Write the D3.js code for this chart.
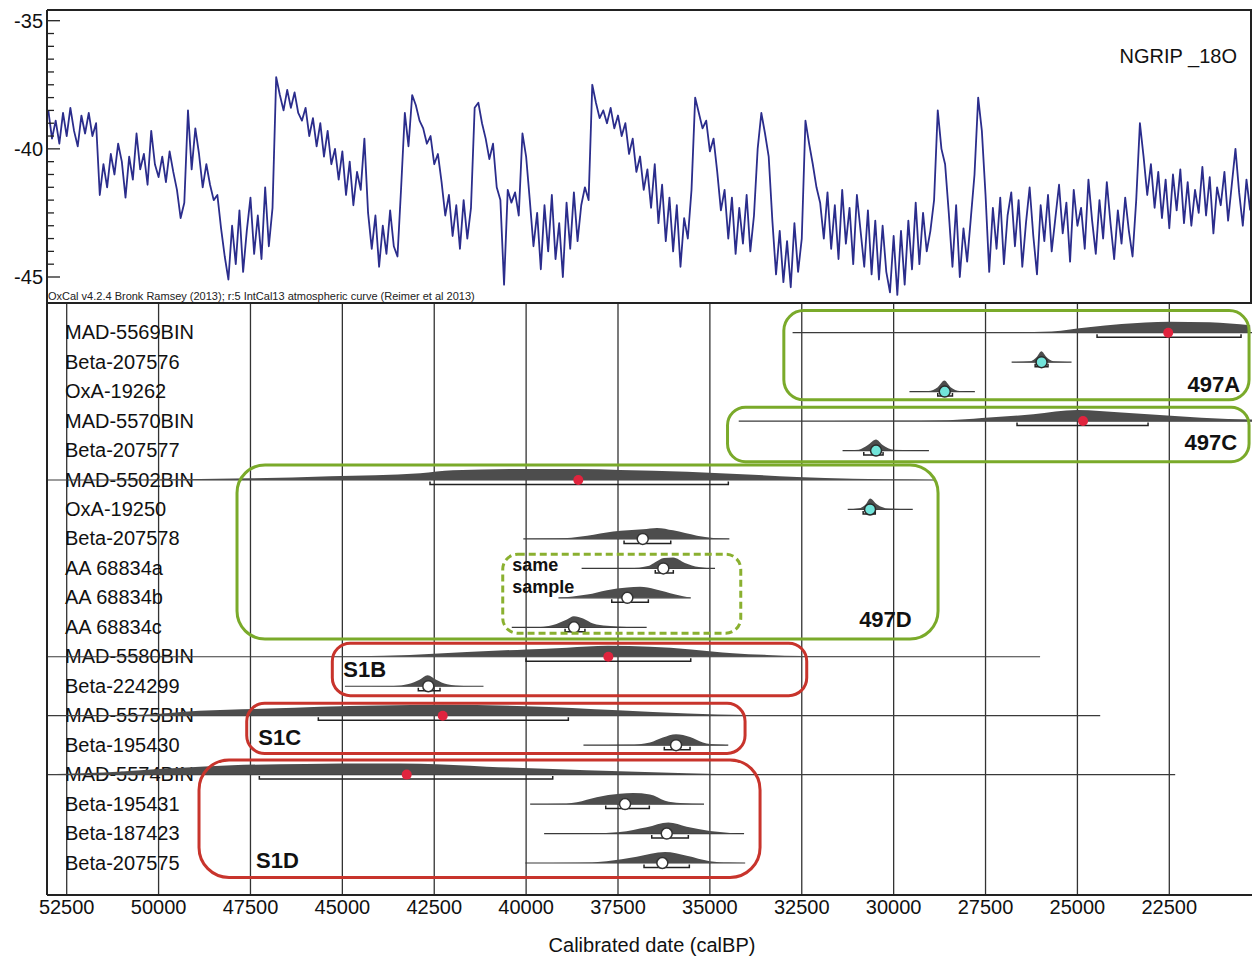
<!DOCTYPE html>
<html>
  <head>
    <meta charset="utf-8"/>
    <style>
body {
  margin: 0;
  background: #fff;
}
svg {
  display: block;
  font-family: "Liberation Sans", Arial, sans-serif;
}
    </style>
  </head>
  <body>
    <svg id="chart" width="1252" height="958"></svg>
    <script src="https://cdnjs.cloudflare.com/ajax/libs/d3/7.8.5/d3.min.js"></script>
    <script>
// NGRIP d18O, one value every 100 yr from 53000 calBP down to 20300 calBP
const ngripStart = 53000,
      ngripStep = 100;
const ngripValues = [
  -38.5, -39.6, -38.9, -39.8, -38.6, -39.5, -38.4, -39.3, -39.9, -38.7,
  -39.4, -38.6, -39.5, -39.0, -41.8, -40.6, -41.5, -40.2, -41.0, -39.8,
  -40.5, -41.9, -40.3, -41.2, -39.4, -40.8, -40.2, -41.4, -39.3, -40.6,
  -41.1, -40.3, -41.3, -40.1, -40.9, -41.6, -42.7, -42.1, -38.5, -40.8,
  -39.2, -40.2, -41.5, -40.6, -41.4, -42.0, -41.8, -43.1, -44.2, -45.1,
  -43.0, -44.5, -42.4, -44.8, -43.2, -41.9, -44.1, -42.6, -44.3, -41.5,
  -43.8, -42.3, -37.2, -37.9, -38.5, -37.7, -38.4, -37.8, -38.6, -38.9,
  -38.4, -39.5, -38.8, -39.9, -39.0, -40.3, -39.3, -40.6, -40.0, -41.2,
  -40.1, -41.8, -40.5, -42.2, -40.9, -41.6, -39.6, -42.5, -43.9, -42.6,
  -44.6, -43.0, -44.1, -42.4, -43.8, -44.2, -41.5, -38.6, -39.9, -37.9,
  -38.3, -38.9, -39.2, -39.8, -39.5, -40.6, -40.2, -41.3, -42.6, -41.8,
  -43.4, -42.2, -43.9, -42.0, -43.5, -42.3, -38.4, -38.2, -39.0, -39.6,
  -40.4, -39.8, -41.5, -42.0, -45.3, -41.6, -42.1, -41.7, -42.6, -39.4,
  -40.3, -42.0, -43.8, -42.5, -44.7, -42.2, -44.0, -41.8, -44.3, -42.9,
  -45.0, -42.1, -43.9, -41.7, -43.6, -42.2, -41.5, -42.0, -37.5, -38.2,
  -38.8, -38.5, -39.0, -38.4, -39.2, -38.7, -39.5, -39.0, -40.2, -39.6,
  -40.9, -40.3, -41.6, -40.8, -42.3, -40.6, -42.9, -41.4, -43.6, -41.9,
  -44.0, -42.2, -44.6, -42.7, -43.5, -41.6, -38.0, -38.6, -39.2, -38.9,
  -40.1, -39.6, -40.9, -42.4, -41.6, -43.5, -41.9, -44.1, -42.3, -43.7,
  -41.8, -44.0, -42.6, -40.0, -38.6, -39.4, -40.3, -42.8, -44.9, -43.2,
  -45.2, -43.6, -45.4, -42.9, -44.8, -43.5, -38.9, -39.8, -40.6, -41.5,
  -42.1, -43.5, -41.7, -43.9, -42.2, -44.3, -41.6, -43.7, -42.3, -44.5,
  -41.8, -43.2, -44.6, -42.4, -44.9, -42.8, -45.1, -43.0, -44.8, -45.6,
  -43.4, -45.7, -43.2, -45.3, -42.8, -44.7, -42.1, -44.5, -42.5, -44.0,
  -43.2, -42.0, -38.5, -40.0, -40.6, -42.5, -44.6, -42.2, -45.0, -43.1,
  -44.4, -42.7, -41.0, -38.0, -39.3, -41.8, -44.8, -42.3, -43.9, -41.9,
  -44.5, -42.6, -41.7, -43.8, -42.0, -44.6, -42.9, -41.5, -43.4, -44.9,
  -42.2, -43.6, -41.8, -44.0, -42.7, -41.4, -43.3, -42.1, -44.4, -41.6,
  -43.0, -42.3, -43.9, -41.2, -42.8, -44.1, -42.0, -43.5, -41.3, -42.9,
  -44.3, -42.4, -43.7, -41.9, -43.2, -44.2, -42.0, -39.0, -40.3, -41.8,
  -40.6, -42.3, -40.9, -42.7, -41.2, -43.1, -41.0, -42.4, -40.8, -42.9,
  -41.3, -43.0, -41.6, -42.5, -40.7, -42.6, -41.1, -43.3, -41.5, -42.2,
  -40.9, -42.8, -41.4, -40.0, -41.7, -43.0, -41.2, -42.4
];

// samples, top to bottom
const sampleNames = ["MAD-5569BIN", "Beta-207576", "OxA-19262", "MAD-5570BIN", "Beta-207577",
  "MAD-5502BIN", "OxA-19250", "Beta-207578", "AA 68834a", "AA 68834b", "AA 68834c",
  "MAD-5580BIN", "Beta-224299", "MAD-5575BIN", "Beta-195430", "MAD-5574BIN",
  "Beta-195431", "Beta-187423", "Beta-207575"];
const spanFrom = [32750, 26790, 29570, 34215, 31390, 53036, 31250, 40076, 38490, 39120, 40390,
  53036, 44930, 53036, 38440, 53036, 39890, 39510, 40020];
const spanTo = [20250, 25160, 27790, 20250, 29040, 28870, 29480, 34470, 34860, 35520, 36720,
  26016, 41160, 24380, 34500, 22340, 35160, 34070, 34040];
const rangeFrom = [24466, 26150, 28800, 26643, 30813, 42615, 30830, 37335, 36486, 37670, 38940,
  40002, 42933, 45654, 36240, 47259, 37834, 36582, 36792];
const rangeTo = [20548, 25800, 28400, 23078, 30288, 34498, 30500, 36065, 35995, 36674, 38400,
  35521, 42343, 38851, 35540, 39276, 36648, 35586, 35559];
const markerDate = [22530, 25976, 28610, 24847, 30479, 38580, 30642, 36827, 36267, 37246, 38696,
  37763, 42661, 42269, 35920, 43249, 37309, 36174, 36294];
const markerKind = ["red", "cyan", "cyan", "red", "cyan", "red", "cyan", "white", "white", "white", "white",
  "red", "white", "red", "white", "red", "white", "white", "white"];
// probability density, [calBP, relative height]
const densities = [
  [[32750, 0], [29000, 0.01], [27000, 0.03], [25700, 0.12], [24700, 0.5], [23800, 0.78], [22500, 1], [21400, 0.94], [20300, 0.68]],
  [[26790, 0], [26300, 0.08], [26100, 0.5], [25980, 1], [25850, 0.5], [25650, 0.08], [25160, 0]],
  [[29570, 0], [29050, 0.05], [28800, 0.4], [28620, 1], [28450, 0.4], [28200, 0.05], [27790, 0]],
  [[34215, 0], [30000, 0.02], [28500, 0.08], [27600, 0.28], [26200, 0.62], [25000, 1], [23800, 0.78], [22350, 0.47], [20900, 0.2], [20250, 0.14]],
  [[31390, 0], [30950, 0.08], [30700, 0.5], [30480, 1], [30300, 0.5], [30000, 0.08], [29040, 0]],
  [[53036, 0], [50230, 0.03], [47510, 0.15], [45330, 0.35], [42880, 0.62], [41990, 0.88], [40160, 1], [38590, 1], [37440, 0.92], [35620, 0.75], [33820, 0.48], [32630, 0.28], [31100, 0.12], [29470, 0.04], [28870, 0]],
  [[31250, 0], [30950, 0.1], [30750, 0.5], [30640, 1], [30450, 0.45], [30150, 0.08], [29480, 0]],
  [[40076, 0], [39200, 0.03], [38340, 0.3], [37630, 0.68], [36820, 0.87], [36440, 1], [36000, 0.78], [35350, 0.3], [34910, 0.08], [34470, 0]],
  [[38490, 0], [37200, 0.02], [36650, 0.25], [36490, 0.55], [36250, 0.95], [36000, 1], [35680, 0.5], [35300, 0.12], [34860, 0]],
  [[39120, 0], [38340, 0.3], [37800, 0.7], [37250, 0.95], [36900, 1], [36490, 0.78], [35940, 0.3], [35520, 0]],
  [[40390, 0], [39600, 0.03], [39270, 0.2], [38890, 0.7], [38700, 1], [38450, 0.8], [38180, 0.35], [37800, 0.15], [36720, 0]],
  [[53036, 0], [46000, 0.02], [43160, 0.17], [41610, 0.43], [40000, 0.67], [38890, 0.83], [37770, 1], [36630, 0.9], [35510, 0.67], [34370, 0.33], [33450, 0.17], [32470, 0.07], [29000, 0.02], [26016, 0]],
  [[44930, 0], [43600, 0.03], [43200, 0.2], [42900, 0.6], [42680, 1], [42450, 0.6], [42150, 0.18], [41700, 0.03], [41160, 0]],
  [[53036, 0], [50500, 0.08], [48900, 0.45], [47000, 0.65], [45600, 0.82], [44000, 0.92], [42270, 1], [40000, 0.86], [37500, 0.5], [35600, 0.2], [34000, 0.06], [31000, 0.01], [24380, 0]],
  [[38440, 0], [37200, 0.03], [36630, 0.25], [36280, 0.7], [35920, 1], [35540, 0.75], [35190, 0.25], [34800, 0.05], [34500, 0]],
  [[53036, 0.04], [51500, 0.2], [49500, 0.6], [48000, 0.85], [46000, 0.97], [44000, 1], [42890, 0.98], [41070, 0.72], [39270, 0.52], [37450, 0.3], [35630, 0.12], [34000, 0.03], [22340, 0]],
  [[39890, 0], [39000, 0.02], [38620, 0.16], [38080, 0.62], [37450, 0.93], [37090, 1], [36630, 0.87], [36220, 0.31], [35810, 0.09], [35160, 0]],
  [[39510, 0], [38200, 0.02], [37450, 0.14], [36720, 0.57], [36130, 1], [35630, 0.62], [35000, 0.23], [34450, 0.06], [34070, 0]],
  [[40020, 0], [38600, 0.02], [37810, 0.17], [36990, 0.57], [36220, 1], [35630, 0.67], [35000, 0.17], [34500, 0.04], [34040, 0]]
];

// phase / site boxes: date extent and row extent
const boxNames = ["497A", "497C", "497D", "same sample", "S1B", "S1C", "S1D"];
const boxFrom = [32988, 34520, 47866, 40636, 45273, 47602, 48900];
const boxTo = [20330, 20330, 28792, 34160, 32365, 34043, 33635];
const boxRowTop = [-0.75, 2.53, 4.49, 7.52, 10.54, 12.58, 14.50];
const boxRowBottom = [2.28, 4.38, 10.40, 10.20, 12.32, 14.28, 18.49];
const boxLabelDate = [20575, 20656, 29508, 40375, 44974, 47287, 47349];
const boxLabelRow = [2.0, 3.98, 9.98, 8.09, 11.67, 13.99, 18.18];

const xTicks = [52500, 50000, 47500, 45000, 42500, 40000, 37500, 35000, 32500, 30000, 27500, 25000, 22500];
const yTicks = [-35, -40, -45];

const boxStyle = {
  "497A": { color: "#7aaa2a", r: 20, dash: null, anchor: "end" },
  "497C": { color: "#7aaa2a", r: 18, dash: null, anchor: "end" },
  "497D": { color: "#7aaa2a", r: 28, dash: null, anchor: "end" },
  "same sample": { color: "#8ab030", r: 15, dash: "7,4", anchor: "start" },
  "S1B": { color: "#c8342c", r: 18, dash: null, anchor: "start" },
  "S1C": { color: "#c8342c", r: 18, dash: null, anchor: "start" },
  "S1D": { color: "#c8342c", r: 30, dash: null, anchor: "start" }
};
const markerStyle = {
  red: { fill: "#e0243e", stroke: "none", r: 5 },
  cyan: { fill: "#72e4da", stroke: "#2a2a2a", r: 5.5 },
  white: { fill: "#fff", stroke: "#333", r: 5.5 }
};

const padLeft = 47, padRight = 1251, padTop = 10, padMid = 303, padBottom = 895;

const x = d3.scaleLinear()
    .domain([52500, 22500])
    .range([66.7, 1169.3]);
const yTop = d3.scaleLinear()
    .domain([-35, -45])
    .range([20.7, 277]);
const yRow = d3.scaleLinear()
    .domain([0, sampleNames.length - 1])
    .range([332.7, 863]);
const h = d3.scaleLinear()
    .domain([0, 1])
    .range([0, 11]);

const svg = d3.select("#chart");

svg.append("rect")
    .attr("width", 1252)
    .attr("height", 958)
    .attr("fill", "#fff");

const defs = svg.append("defs");
defs.append("clipPath").attr("id", "clipTop")
  .append("rect")
    .attr("x", padLeft).attr("y", padTop)
    .attr("width", padRight - padLeft).attr("height", padMid - padTop);
defs.append("clipPath").attr("id", "clipBottom")
  .append("rect")
    .attr("x", padLeft).attr("y", padMid)
    .attr("width", padRight - padLeft + 2).attr("height", padBottom - padMid);

// ---- top panel: NGRIP curve
const ngrip = ngripValues.map((v, i) => [ngripStart - i * ngripStep, v]);

svg.append("g")
    .attr("clip-path", "url(#clipTop)")
  .append("path")
    .datum(ngrip)
    .attr("fill", "none")
    .attr("stroke", "#2b2d8c")
    .attr("stroke-width", 1.8)
    .attr("stroke-linejoin", "round")
    .attr("d", d3.line().x(d => x(d[0])).y(d => yTop(d[1])));

// y ticks (major every 5, minor every 0.5)
const minor = d3.range(-35, -45.01, -0.5);
svg.append("g")
  .selectAll("line")
  .data(minor)
  .join("line")
    .attr("x1", padLeft)
    .attr("x2", d => padLeft + (d % 5 === 0 ? 13 : 7))
    .attr("y1", d => yTop(d))
    .attr("y2", d => yTop(d))
    .attr("stroke", "#222")
    .attr("stroke-width", 1.3);

svg.append("g")
  .selectAll("text")
  .data(yTicks)
  .join("text")
    .attr("x", 43)
    .attr("y", d => yTop(d) + 7)
    .attr("text-anchor", "end")
    .attr("font-size", 20)
    .attr("fill", "#111")
    .text(d => d);

svg.append("text")
    .attr("x", 1237)
    .attr("y", 63)
    .attr("text-anchor", "end")
    .attr("font-size", 20)
    .attr("fill", "#111")
    .text("NGRIP _18O");

svg.append("text")
    .attr("x", padLeft + 1)
    .attr("y", 300)
    .attr("font-size", 11)
    .attr("fill", "#222")
    .text("OxCal v4.2.4 Bronk Ramsey (2013); r:5 IntCal13 atmospheric curve (Reimer et al 2013)");

// ---- bottom panel
svg.append("g")
  .selectAll("line")
  .data(xTicks)
  .join("line")
    .attr("x1", d => x(d))
    .attr("x2", d => x(d))
    .attr("y1", padMid)
    .attr("y2", padBottom)
    .attr("stroke", "#333")
    .attr("stroke-width", 1.3);

svg.append("g")
    .attr("font-size", 20)
    .attr("fill", "#111")
  .selectAll("text")
  .data(sampleNames)
  .join("text")
    .attr("x", 65)
    .attr("y", (d, i) => yRow(i) + 6.5)
    .text(d => d);

const plot = svg.append("g")
    .attr("clip-path", "url(#clipBottom)");

const rows = plot.selectAll("g.row")
  .data(sampleNames.map((name, i) => ({ name, i })))
  .join("g")
    .attr("class", "row");

rows.append("line")
    .attr("x1", d => x(spanFrom[d.i]))
    .attr("x2", d => x(spanTo[d.i]))
    .attr("y1", d => yRow(d.i))
    .attr("y2", d => yRow(d.i))
    .attr("stroke", "#3a3a3a")
    .attr("stroke-width", 1.2);

rows.append("path")
    .attr("fill", "#4d4d4d")
    .attr("d", d => d3.area()
        .x(p => x(p[0]))
        .y0(yRow(d.i))
        .y1(p => yRow(d.i) - h(p[1]))
        .curve(d3.curveMonotoneX)(densities[d.i]));

rows.append("path")
    .attr("fill", "none")
    .attr("stroke", "#222")
    .attr("stroke-width", 1.5)
    .attr("d", d => {
      let x1 = x(rangeFrom[d.i]), x2 = x(rangeTo[d.i]), y = yRow(d.i);
      return `M${x1},${y + 1.5}V${y + 4.5}H${x2}V${y + 1.5}`;
    });

rows.append("circle")
    .attr("cx", d => x(markerDate[d.i]))
    .attr("cy", d => yRow(d.i))
    .attr("r", d => markerStyle[markerKind[d.i]].r)
    .attr("fill", d => markerStyle[markerKind[d.i]].fill)
    .attr("stroke", d => markerStyle[markerKind[d.i]].stroke)
    .attr("stroke-width", 1.5);

// boxes
const boxes = svg.append("g")
  .selectAll("g")
  .data(boxNames.map((name, i) => ({ name, i })))
  .join("g");

boxes.append("rect")
    .attr("x", d => x(boxFrom[d.i]))
    .attr("y", d => yRow(boxRowTop[d.i]))
    .attr("width", d => x(boxTo[d.i]) - x(boxFrom[d.i]))
    .attr("height", d => yRow(boxRowBottom[d.i]) - yRow(boxRowTop[d.i]))
    .attr("rx", d => boxStyle[d.name].r)
    .attr("fill", "none")
    .attr("stroke", d => boxStyle[d.name].color)
    .attr("stroke-width", 3)
    .attr("stroke-dasharray", d => boxStyle[d.name].dash);

boxes.filter(d => d.name !== "same sample")
  .append("text")
    .attr("x", d => x(boxLabelDate[d.i]))
    .attr("y", d => yRow(boxLabelRow[d.i]))
    .attr("text-anchor", d => boxStyle[d.name].anchor)
    .attr("font-size", 22)
    .attr("font-weight", "bold")
    .attr("fill", "#111")
    .text(d => d.name);

const same = boxNames.indexOf("same sample");
svg.append("text")
    .attr("x", x(boxLabelDate[same]))
    .attr("y", yRow(boxLabelRow[same]))
    .attr("font-size", 18)
    .attr("font-weight", "bold")
    .attr("fill", "#111")
  .selectAll("tspan")
  .data(["same", "sample"])
  .join("tspan")
    .attr("x", x(boxLabelDate[same]))
    .attr("dy", (d, i) => i ? 21.7 : 0)
    .text(d => d);

// frame
const frame = svg.append("g")
    .attr("stroke", "#222")
    .attr("fill", "none");
frame.append("path")
    .attr("stroke-width", 2)
    .attr("d", `M${padLeft},${padTop}H1252M${padLeft},${padMid}H1252M${padLeft},${padBottom}H1252`);
frame.append("path")
    .attr("stroke-width", 2)
    .attr("d", `M${padLeft},${padTop}V${padBottom}M${padRight},${padTop}V${padMid}`);

// x axis labels
svg.append("g")
    .attr("font-size", 20)
    .attr("fill", "#111")
    .attr("text-anchor", "middle")
  .selectAll("text")
  .data(xTicks)
  .join("text")
    .attr("x", d => x(d))
    .attr("y", 914)
    .text(d => d);

svg.append("text")
    .attr("x", 652)
    .attr("y", 952)
    .attr("text-anchor", "middle")
    .attr("font-size", 20)
    .attr("fill", "#111")
    .text("Calibrated date (calBP)");
    </script>
  </body>
</html>
